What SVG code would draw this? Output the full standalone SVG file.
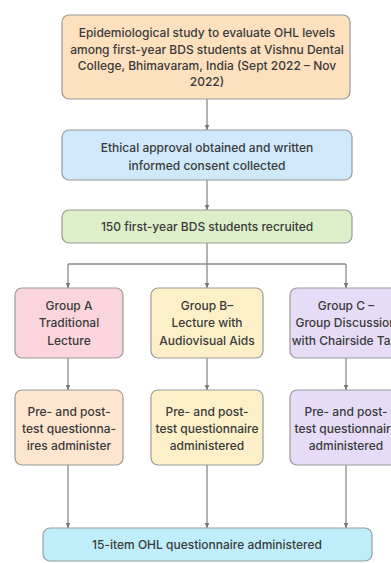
<svg xmlns="http://www.w3.org/2000/svg" width="391" height="563" viewBox="0 0 391 563">
<defs>
<marker id="ah" viewBox="0 0 10 10" refX="9" refY="5" markerWidth="4.5" markerHeight="4.5" orient="auto">
<path d="M0,1 L10,5 L0,9 z" fill="#777"/>
</marker>
<style>
.b{stroke:#9a9a9a;stroke-width:1.2}
.t{font-family:Inter,"Noto Sans",sans-serif;font-size:12px;font-weight:500;fill:#3a3a3a;text-anchor:middle}
.c{fill:none;stroke:#8a8a8a;stroke-width:1.3}
.ca{fill:none;stroke:#8a8a8a;stroke-width:1.3;marker-end:url(#ah)}
</style>
</defs>
<rect width="391" height="563" fill="#fff"/>
<g id="connectors">
<path class="ca" d="M207,99 V130"/>
<path class="ca" d="M207,180 V210"/>
<path class="c" d="M207,243 V264"/>
<path class="c" d="M68,264 H346"/>
<path class="ca" d="M68,264 V288"/>
<path class="ca" d="M207,264 V288"/>
<path class="ca" d="M346,264 V288"/>
<path class="ca" d="M68,358 V390"/>
<path class="ca" d="M207,358 V390"/>
<path class="ca" d="M346,358 V390"/>
<path class="ca" d="M68,465 V528"/>
<path class="ca" d="M207,465 V528"/>
<path class="ca" d="M346,465 V528"/>
</g>
<g id="n1">
<rect class="b" x="62" y="15" width="288" height="84" rx="7" fill="#fde0bd"/>
<text class="t" x="207" y="37.3">Epidemiological study to evaluate OHL levels</text>
<text class="t" x="207" y="53.6">among first-year BDS students at Vishnu Dental</text>
<text class="t" x="207" y="69.9">College, Bhimavaram, India (Sept 2022 – Nov</text>
<text class="t" x="207" y="86.2">2022)</text>
</g>
<g id="n2">
<rect class="b" x="62" y="130" width="290" height="50" rx="7" fill="#cfe8fa"/>
<text class="t" x="207" y="151.5">Ethical approval obtained and written</text>
<text class="t" x="207" y="169.5">informed consent collected</text>
</g>
<g id="n3">
<rect class="b" x="62" y="210" width="290" height="33" rx="7" fill="#dcefc9"/>
<text class="t" x="207" y="231">150 first-year BDS students recruited</text>
</g>
<g id="gA">
<rect class="b" x="15" y="288" width="108" height="70" rx="7" fill="#fad5dd"/>
<text class="t" x="69" y="309.5">Group A</text>
<text class="t" x="69" y="327">Traditional</text>
<text class="t" x="69" y="344.5">Lecture</text>
</g>
<g id="gB">
<rect class="b" x="151" y="288" width="112" height="70" rx="7" fill="#fdf0c8"/>
<text class="t" x="207" y="309.5">Group B–</text>
<text class="t" x="207" y="327">Lecture with</text>
<text class="t" x="207" y="344.5">Audiovisual Aids</text>
</g>
<g id="gC">
<rect class="b" x="290" y="288" width="112" height="70" rx="7" fill="#e6dcf8"/>
<text class="t" x="346" y="309.5">Group C –</text>
<text class="t" x="346" y="327">Group Discussion</text>
<text class="t" x="346" y="344.5">with Chairside Talk</text>
</g>
<g id="pA">
<rect class="b" x="15" y="390" width="108" height="75" rx="7" fill="#fde5cf"/>
<text class="t" x="69" y="416">Pre- and post-</text>
<text class="t" x="69" y="433">test questionna-</text>
<text class="t" x="69" y="450">ires administer</text>
</g>
<g id="pB">
<rect class="b" x="151" y="390" width="112" height="75" rx="7" fill="#fdf0c8"/>
<text class="t" x="207" y="416">Pre- and post-</text>
<text class="t" x="207" y="433">test questionnaire</text>
<text class="t" x="207" y="450">administered</text>
</g>
<g id="pC">
<rect class="b" x="290" y="390" width="112" height="75" rx="7" fill="#e6dcf8"/>
<text class="t" x="346" y="416">Pre- and post-</text>
<text class="t" x="346" y="433">test questionnaire</text>
<text class="t" x="346" y="450">administered</text>
</g>
<g id="n4">
<rect class="b" x="43" y="528" width="329" height="33" rx="7" fill="#bfeefa"/>
<text class="t" x="207" y="549">15-item OHL questionnaire administered</text>
</g>
</svg>
